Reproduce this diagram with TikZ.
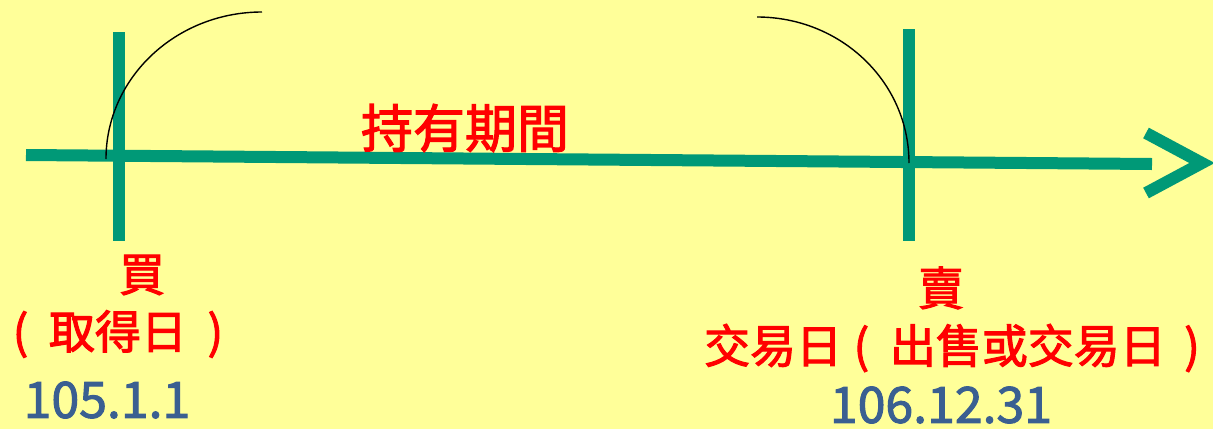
\documentclass[tikz,border=0pt]{standalone}
\usepackage{fontspec}
\newfontfamily\cjk[FakeBold=2.2]{Noto Sans CJK TC}
\newfontfamily\numfont[FakeBold=2]{Noto Sans CJK TC}
\definecolor{bgyellow}{RGB}{255,255,153}
\definecolor{axisgreen}{RGB}{0,153,119}
\definecolor{labelred}{RGB}{255,0,0}
\definecolor{datblue}{RGB}{58,95,145}
\tikzset{
  axisline/.style={draw=axisgreen, line width=12pt},
  tickbar/.style={draw=axisgreen, line width=12pt},
  spanarc/.style={draw=black, line width=1.4pt},
  cnlabel/.style={text=labelred, font=\cjk\fontsize{46}{50}\selectfont, inner sep=0pt},
  datelabel/.style={text=datblue, font=\numfont\fontsize{50}{54}\selectfont, inner sep=0pt},
}
\begin{document}
\begin{tikzpicture}[x=1pt,y=-1pt]
\fill[bgyellow] (0,0) rectangle (1213,429);
\useasboundingbox (0,0) rectangle (1213,429);
% axis
\coordinate (axL) at (26,155);
\coordinate (axR) at (1152,164);
\path[axisline] (axL) -- (axR);
% arrow chevron
\coordinate (chA) at (1146,133);
\coordinate (chTip) at (1202,163);
\coordinate (chB) at (1146,193);
\path[axisline, line join=miter] (chA) -- (chTip) -- (chB);
% tick bars
\coordinate (buyTop) at (119,32);
\coordinate (buyBot) at (119,241);
\coordinate (sellTop) at (909,29);
\coordinate (sellBot) at (909,241);
\path[tickbar] (buyTop) -- (buyBot);
\path[tickbar] (sellTop) -- (sellBot);
% arcs
\coordinate (arcLs) at (106,159);
\coordinate (arcLe) at (262,12);
\coordinate (arcRs) at (757,17);
\coordinate (arcRe) at (909,163);
\path[spanarc] (arcLs) .. controls (106,78) and (176,12) .. (arcLe);
\path[spanarc] (arcRs) .. controls (841,17) and (909,82) .. (arcRe);
% labels
\node[cnlabel, font=\cjk\fontsize{52}{56}\selectfont] (hold) at (465,128) {持有期間};
\node[cnlabel] (buy) at (142,275) {買};
\node[cnlabel] (buydate) at (118,334) {(\hspace{0.45em}取得日\hspace{0.45em})};
\node[datelabel] (buynum) at (107,400) {105.1.1};
\node[cnlabel] (selldate) at (952,348) {交易日\hspace{0.25em}(\hspace{0.45em}出售或交易日\hspace{0.4em})};
\node[cnlabel] (sell) at (941,288) {賣};
\node[datelabel] (sellnum) at (941,405) {106.12.31};
\end{tikzpicture}
\end{document}
